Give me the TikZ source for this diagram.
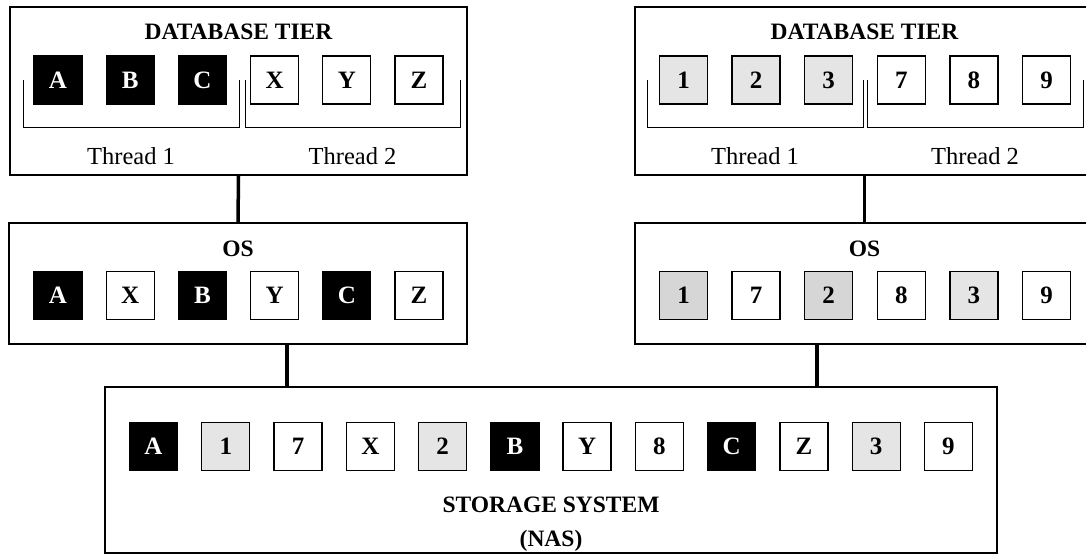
\documentclass[tikz,border=0pt]{standalone}
\usepackage{fontspec}
\setmainfont{Liberation Serif}
\usetikzlibrary{positioning}

\begin{document}
\begin{tikzpicture}[x=1pt,y=-1pt,
                    tier/.style={draw,line width=1.8pt,inner sep=0pt},
                    cell/.style={draw,line width=1.3pt,minimum size=48pt,inner sep=0pt,
                                 font=\fontsize{25}{27}\selectfont\bfseries},
                    blk/.style={cell,fill=black,text=white},
                    wht/.style={cell,fill=white},
                    gry/.style={cell,fill=gray!20},
                    dgry/.style={cell,fill=gray!32},
                    head/.style={font=\fontsize{23.5}{26}\selectfont\bfseries,anchor=base,inner sep=0pt},
                    thr/.style={font=\fontsize{24.5}{26}\selectfont,anchor=base,inner sep=0pt},
                    link/.style={line width=3.5pt},
                    brack/.style={line width=0.8pt}]
      \clip (0,0) rectangle (1086,556);
      \fill[white] (0,0) rectangle (1086,556);
      % tiers
      \node[tier, minimum width=457pt, minimum height=168pt] (dbL) at (238.5,91) {};
      \node[tier, minimum width=459pt, minimum height=168pt] (dbR) at (864.5,91) {};
      \node[tier, minimum width=458pt, minimum height=121pt] (osL) at (238,283.5) {};
      \node[tier, minimum width=459pt, minimum height=121pt] (osR) at (864.5,283.5) {};
      \node[tier, minimum width=892pt, minimum height=166pt] (store) at (551,470) {};
      % headings
      \node[head] (dbLt) at (dbL.center |- 0,40) {DATABASE TIER};
      \node[head] (dbRt) at (dbR.center |- 0,40) {DATABASE TIER};
      \node[head] (osLt) at (osL.center |- 0,256) {OS};
      \node[head] (osRt) at (osR.center |- 0,256) {OS};
      \node[head] (stt) at (551,512) {STORAGE SYSTEM};
      \node[head] (nas) at (551,546) {(NAS)};
      % cells
      \foreach \lbl/\sty [count=\i from 0] in {A/blk,B/blk,C/blk,X/wht,Y/wht,Z/wht}
        \node[\sty] (dl\i) at ({58+72.2*\i},80) {\lbl};
      \foreach \lbl/\sty [count=\i from 0] in {1/gry,2/gry,3/gry,7/wht,8/wht,9/wht}
        \node[\sty] (dr\i) at ({683.5+72.6*\i},80) {\lbl};
      \foreach \lbl/\sty [count=\i from 0] in {A/blk,X/wht,B/blk,Y/wht,C/blk,Z/wht}
        \node[\sty] (ol\i) at ({58+72.2*\i},295.5) {\lbl};
      \foreach \lbl/\sty [count=\i from 0] in {1/dgry,7/wht,2/dgry,8/wht,3/gry,9/wht}
        \node[\sty] (or\i) at ({683.5+72.6*\i},295.5) {\lbl};
      \foreach \lbl/\sty [count=\i from 0] in {A/blk,1/gry,7/wht,X/wht,2/gry,B/blk,
                                             Y/wht,8/wht,C/blk,Z/wht,3/gry,9/wht}
        \node[\sty] (st\i) at ({153.5+72.27*\i},446.5) {\lbl};
      % threads
      \draw[brack] (23,80) |- (239,127) -- (239,80);
      \draw[brack] (245,80) |- (460,127) -- (460,80);
      \draw[brack] (647,80) |- (863,127) -- (863,80);
      \draw[brack] (867,80) |- (1083,127) -- (1083,80);
      \node[thr] (tl1) at (131,165) {Thread 1};
      \node[thr] (tl2) at (352.5,165) {Thread 2};
      \node[thr] (tr1) at (755,165) {Thread 1};
      \node[thr] (tr2) at (975,165) {Thread 2};
      % links
      \draw[link] (dbL.south) -- (osL.north);
      \draw[link] (dbR.south) -- (osR.north);
      \draw[link] ([xshift=49pt]osL.south) -- ([xshift=49pt]osL.south |- store.north);
      \draw[link] ([xshift=-47.5pt]osR.south) -- ([xshift=-47.5pt]osR.south |- store.north);
\end{tikzpicture}
\end{document}
